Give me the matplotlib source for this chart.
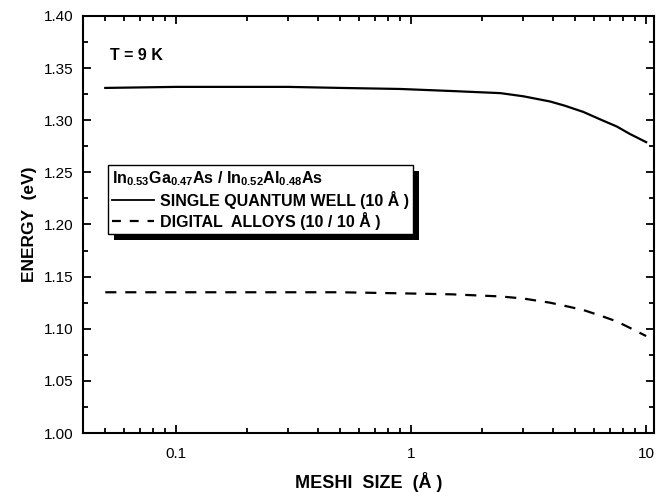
import matplotlib
matplotlib.use("Agg")
import matplotlib.pyplot as plt
import matplotlib.patheffects as pe
from matplotlib.ticker import MultipleLocator, FormatStrFormatter, LogLocator, FixedFormatter, FixedLocator
from matplotlib.lines import Line2D

plt.rcParams['font.family'] = ['Liberation Sans', 'DejaVu Sans']
plt.rcParams['mathtext.fontset'] = 'custom'
plt.rcParams['mathtext.rm'] = 'Liberation Sans:bold'
plt.rcParams['mathtext.default'] = 'regular'

# mesh size (A) and energies (eV)
mesh = [0.05, 0.1, 0.2, 0.3, 0.5, 0.9, 1.5, 2.4, 3.0, 3.9, 4.5, 5.4, 6.5, 7.5, 8.5, 10.0]
e_sqw = [1.331, 1.332, 1.332, 1.332, 1.331, 1.330, 1.328, 1.326, 1.323, 1.318, 1.314,
         1.308, 1.300, 1.294, 1.287, 1.279]
e_da = [1.135, 1.135, 1.135, 1.135, 1.135, 1.134, 1.133, 1.131, 1.129, 1.125, 1.122,
        1.118, 1.112, 1.107, 1.101, 1.093]

legend_title = "In$_{0.53}$Ga$_{0.47}$As / In$_{0.52}$Al$_{0.48}$As"
label_sqw = "SINGLE QUANTUM WELL (10 Å )"
label_da = "DIGITAL  ALLOYS (10 / 10 Å )"

fig = plt.figure(figsize=(6.65, 4.92), dpi=100)
ax = fig.add_axes([0.1248, 0.1199, 0.8587, 0.8476])

ax.plot(mesh, e_sqw, color='black', lw=1.6)
ax.plot(mesh, e_da, color='black', lw=1.6, dashes=(5, 4))

ax.set_xscale('log')
ax.set_xlim(0.0402, 10.8)
ax.set_ylim(1.00, 1.40)

ax.xaxis.set_major_locator(FixedLocator([0.1, 1, 10]))
ax.xaxis.set_major_formatter(FixedFormatter(['0.1', '1', '10']))
ax.xaxis.set_minor_locator(LogLocator(base=10, subs=range(2, 10)))
ax.xaxis.set_minor_formatter(plt.NullFormatter())
ax.yaxis.set_major_locator(MultipleLocator(0.05))
ax.yaxis.set_minor_locator(MultipleLocator(0.025))
ax.yaxis.set_major_formatter(FormatStrFormatter('%.2f'))

ax.tick_params(which='both', direction='in', top=True, right=True, width=1.3, labelsize=11)
ax.tick_params(which='major', length=6)
ax.tick_params(axis='x', which='major', pad=10)
ax.tick_params(axis='y', which='major', pad=7)
ax.tick_params(which='minor', length=3.5)
for s in ax.spines.values():
    s.set_linewidth(1.5)

ax.set_xlabel("MESHI  SIZE  (Å )", fontsize=13, fontweight='bold', labelpad=8)
ax.set_ylabel("ENERGY  (eV)", fontsize=12.5, fontweight='bold', labelpad=5)

ax.text(0.047, 0.905, "T = 9 K", transform=ax.transAxes, fontsize=11.5,
        fontweight='bold', va='center', ha='left')

handles = [Line2D([], [], color='black', lw=1.3),
           Line2D([], [], color='black', lw=1.6, dashes=(4, 4))]
leg = ax.legend(handles, [label_sqw, label_da], title=legend_title,
                loc='upper left', bbox_to_anchor=(0.044, 0.643), borderaxespad=0,
                fancybox=False, edgecolor='black', framealpha=1,
                handlelength=2.6, handletextpad=0.4, labelspacing=0.2,
                borderpad=0.25, alignment='left',
                prop={'weight': 'bold', 'size': 11.5},
                title_fontproperties={'weight': 'bold', 'size': 11.5})
frame = leg.get_frame()
frame.set_linewidth(1.0)
frame.set_path_effects([pe.SimplePatchShadow(offset=(4.3, -4.3), shadow_rgbFace='black', alpha=1),
                        pe.Normal()])

fig.savefig("out.png", dpi=100)
